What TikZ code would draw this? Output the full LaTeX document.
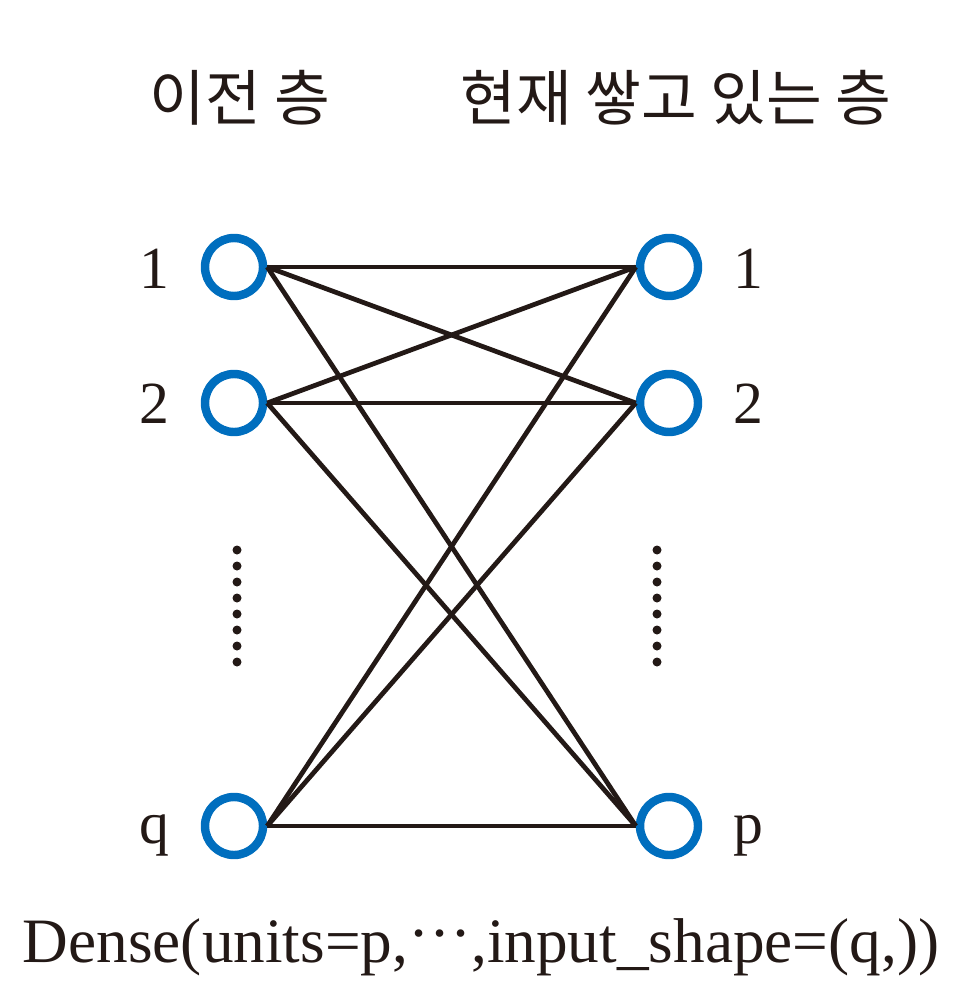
\documentclass[tikz,border=0pt]{standalone}
\usepackage{fontspec}
\setmainfont{Liberation Serif}
\newfontfamily\krfont{Noto Sans CJK KR}
\definecolor{unitblue}{RGB}{0,110,190}
\definecolor{wirecol}{RGB}{35,25,22}
\begin{document}
\begin{tikzpicture}[x=0.02cm,y=-0.02cm,
  unit/.style={circle,draw=unitblue,line width=4.8pt,minimum size=1.16cm,inner sep=0pt},
  wire/.style={wirecol,line width=2.7pt},
  idx/.style={font=\fontsize{34}{36}\selectfont,text=wirecol,anchor=base},
  head/.style={font=\krfont\fontsize{34.5}{38}\selectfont,text=wirecol}]
\useasboundingbox (0,0) rectangle (964,1000);
% layer titles
\node[head] (hprev) at (240,98) {이전 층};
\node[head] (hcur) at (676,98) {현재 쌓고 있는 층};
% previous layer
\node[unit] (a1) at (234,267) {};
\node[unit] (a2) at (234,403) {};
\node[unit] (aq) at (234,826) {};
\node[idx] (la1) at (154,288) {1};
\node[idx] (la2) at (154,423) {2};
\node[idx] (laq) at (154,843) {q};
% current layer
\node[unit] (b1) at (669,267) {};
\node[unit] (b2) at (669,403) {};
\node[unit] (bp) at (669,826) {};
\node[idx] (lb1) at (748,288) {1};
\node[idx] (lb2) at (748,423) {2};
\node[idx] (lbp) at (748,843) {p};
% full connections
\foreach \s in {a1,a2,aq}
  \foreach \t in {b1,b2,bp}
    \draw[wire] (\s.east) -- (\t.west);
% vertical dots
\foreach \k in {0,...,7} {
  \fill[wirecol] (237,{550+16*\k}) circle (0.09cm);
  \fill[wirecol] (657,{550+16*\k}) circle (0.09cm);
}
\node[font=\fontsize{36}{40}\selectfont,text=wirecol,anchor=base] (call) at (481,962) {Dense(units=p,\raisebox{0.12em}{···},input\_shape=(q,))};
\end{tikzpicture}
\end{document}
